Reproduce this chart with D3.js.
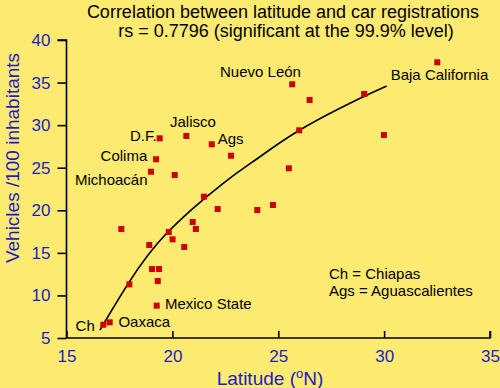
<!DOCTYPE html>
<html>
<head>
<meta charset="utf-8">
<script src="https://cdn.jsdelivr.net/npm/d3@7"></script>
<style>
    html, body { margin: 0; padding: 0; background: #fdea70; }
    svg { display: block; font-family: "Liberation Sans", Arial, sans-serif; }
</style>
</head>
<body>
<div class="graph_container"></div>
<script>
// latitude (deg N) and vehicles per 100 inhabitants, one entry per state
const latitudes = [19.40, 20.66, 21.86, 22.77, 19.23, 18.99, 20.11, 21.49,
    32.51, 25.66, 26.48, 29.06, 25.99, 29.99, 25.50,
    22.14, 24.01, 24.75, 17.59, 20.96, 21.11, 19.83, 20.01, 18.91, 20.56,
    19.04, 19.37, 19.31, 17.97, 19.26, 17.04, 16.74];
const vehicles = [28.45, 28.73, 27.75, 26.41, 25.99, 24.53, 24.14, 21.60,
    37.38, 34.80, 32.95, 33.66, 29.39, 28.84, 24.93,
    20.15, 20.03, 20.62, 17.80, 18.62, 17.80, 17.45, 16.59, 15.92, 15.69,
    13.10, 13.10, 11.69, 11.30, 8.80, 6.84, 6.56];

// fitted trend line
const fitLat = [16.58, 17.92, 19.73, 22.40, 24.00, 26.02, 28.70, 30.12];
const fitVeh = [5.94, 11.42, 17.30, 23.17, 26.05, 29.43, 32.95, 34.60];

// state labels
const labelNames = ["Nuevo León", "Baja California", "Jalisco", "D.F.", "Ags", "Colima",
    "Michoacán", "Mexico State", "Oaxaca", "Ch"];
const labelLat = [22.25, 30.31, 19.89, 18.0, 22.14, 16.61, 15.40, 19.65, 17.45, 15.43];
const labelVeh = [35.66, 35.30, 29.78, 28.14, 27.79, 25.82, 22.97, 8.41, 6.33, 5.86];

const xTicks = [15, 20, 25, 30, 35];
const yTicks = [5, 10, 15, 20, 25, 30, 35, 40];

const W = 500, H = 388;
const margin = { top: 40, right: 10, bottom: 50, left: 66.5 };
const blue = "#1c1cc8";
const red = "#cc0000";

const svg = d3.select(".graph_container").append("svg")
    .attr("width", W).attr("height", H);

svg.append("rect").attr("width", W).attr("height", H).attr("fill", "#fdea70");

const xScale = d3.scaleLinear().domain([15, 35]).range([margin.left, 490]);
const yScale = d3.scaleLinear().domain([5, 40]).range([338, 40]);

// title
svg.append("text").attr("x", 283).attr("y", 18).attr("text-anchor", "middle")
    .attr("font-size", 18).text("Correlation between latitude and car registrations");
svg.append("text").attr("x", 286).attr("y", 37).attr("text-anchor", "middle")
    .attr("font-size", 18).text("rs = 0.7796 (significant at the 99.9% level)");

// axes
const xAxis = d3.axisBottom(xScale).tickValues(xTicks).tickSize(-7).tickPadding(12).tickFormat(d3.format("d"));
const yAxis = d3.axisLeft(yScale).tickValues(yTicks).tickSize(9).tickPadding(7).tickFormat(d3.format("d"));

const gx = svg.append("g").attr("transform", "translate(0,338)").call(xAxis);
const gy = svg.append("g").attr("transform", "translate(" + margin.left + ",0)").call(yAxis);

[gx, gy].forEach((g) => {
    g.select(".domain").attr("stroke", "#000").attr("stroke-width", 1.6);
    g.selectAll(".tick line").attr("stroke", "#000").attr("stroke-width", 1.6);
    g.selectAll(".tick text").attr("fill", blue).attr("font-size", 17)
        .attr("font-family", "Liberation Sans, Arial, sans-serif");
});
gy.select(".domain").attr("d", "M-9,40H0V338");
gx.select(".domain").attr("d", "M" + margin.left + ",0H490V-7");

// axis titles
const xl = svg.append("text").attr("x", 270).attr("y", 385).attr("text-anchor", "middle")
    .attr("font-size", 19).attr("fill", blue);
xl.append("tspan").text("Latitude (");
xl.append("tspan").attr("dy", -7).attr("font-size", 13).text("o");
xl.append("tspan").attr("dy", 7).text("N)");

svg.append("text").attr("transform", "translate(19,158) rotate(-90)")
    .attr("text-anchor", "middle").attr("font-size", 19).attr("fill", blue)
    .text("Vehicles /100 inhabitants");

// trend line
const fit = fitLat.map((d, i) => [d, fitVeh[i]]);
svg.append("path").datum(fit)
    .attr("fill", "none").attr("stroke", "#000").attr("stroke-width", 1.7)
    .attr("d", d3.line().x((d) => xScale(d[0])).y((d) => yScale(d[1])).curve(d3.curveNatural));

// points
const pts = latitudes.map((d, i) => ({ lat: d, veh: vehicles[i] }));
svg.selectAll(".pt").data(pts).join("rect").attr("class", "pt")
    .attr("x", (d) => xScale(d.lat) - 3).attr("y", (d) => yScale(d.veh) - 3)
    .attr("width", 6).attr("height", 6).attr("fill", red);

// labels
svg.selectAll(".lbl").data(labelNames).join("text").attr("class", "lbl")
    .attr("x", (d, i) => xScale(labelLat[i])).attr("y", (d, i) => yScale(labelVeh[i]))
    .attr("font-size", 15).attr("fill", "#000").text((d) => d);

// key
svg.append("text").attr("x", 329).attr("y", 279).attr("font-size", 15).text("Ch = Chiapas");
svg.append("text").attr("x", 329).attr("y", 296).attr("font-size", 15).text("Ags = Aguascalientes");
</script>
</body>
</html>
